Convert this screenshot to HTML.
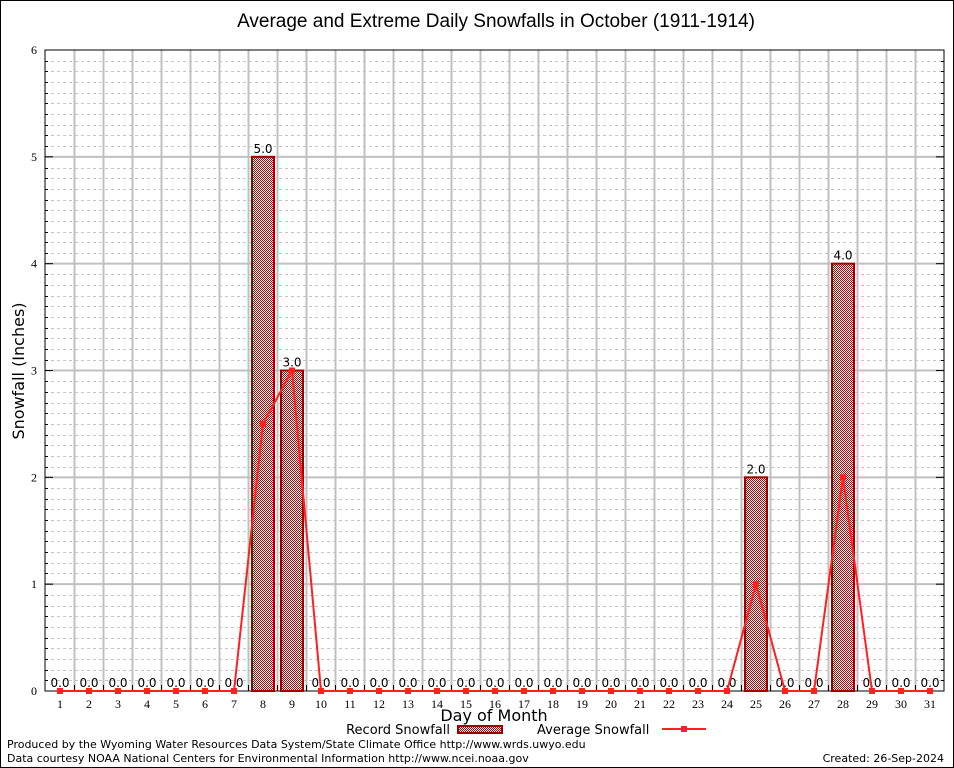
<!DOCTYPE html>
<html><head><meta charset="utf-8">
<style>
html,body{margin:0;padding:0;background:#fff;}
svg{display:block;font-family:"DejaVu Sans","Liberation Sans",sans-serif;}
</style></head>
<body>
<svg id="chart" width="954" height="768" viewBox="0 0 954 768" xmlns="http://www.w3.org/2000/svg">
<defs>
<pattern id="chk" width="2" height="2" patternUnits="userSpaceOnUse">
<rect width="2" height="2" fill="#fff"/>
<rect width="1" height="1" fill="#b00000"/>
<rect x="1" y="1" width="1" height="1" fill="#b00000"/>
</pattern>
</defs>
<rect x="0.5" y="0.5" width="953" height="767" fill="#fff" stroke="#000"/>
<text x="496" y="27" font-size="19" text-anchor="middle" font-family="Liberation Sans, sans-serif">Average and Extreme Daily Snowfalls in October (1911-1914)</text>
<g id="grid"></g>
<g id="marks"></g>
<text transform="translate(24,371) rotate(-90)" font-size="16" text-anchor="middle">Snowfall (Inches)</text>
<text x="494" y="721" font-size="16" text-anchor="middle">Day of Month</text>
<g>
<text x="450" y="734" font-size="13" text-anchor="end">Record Snowfall</text>
<rect x="458" y="726" width="44" height="7" fill="url(#chk)" stroke="#a00000" stroke-width="2"/>
<text x="537" y="734" font-size="13">Average Snowfall</text>
<line x1="662" y1="729" x2="706" y2="729" stroke="#ff2020" stroke-width="2"/>
<rect x="681" y="726" width="6" height="6" fill="#ff2020"/>
</g>
<text x="7" y="748" font-size="11">Produced by the Wyoming Water Resources Data System/State Climate Office http://www.wrds.uwyo.edu</text>
<text x="7" y="762" font-size="11">Data courtesy NOAA National Centers for Environmental Information http://www.ncei.noaa.gov</text>
<text x="944" y="762" font-size="11" text-anchor="end">Created:  26-Sep-2024</text>
</svg>
<script>
const days = [1,2,3,4,5,6,7,8,9,10,11,12,13,14,15,16,17,18,19,20,21,22,23,24,25,26,27,28,29,30,31];
const recordSnow = [0,0,0,0,0,0,0,5.0,3.0,0,0,0,0,0,0,0,0,0,0,0,0,0,0,0,2.0,0,0,4.0,0,0,0];
const avgSnow = [0,0,0,0,0,0,0,2.5,3.0,0,0,0,0,0,0,0,0,0,0,0,0,0,0,0,1.0,0,0,2.0,0,0,0];
const yTicks = [0,1,2,3,4,5,6];

const NS="http://www.w3.org/2000/svg";
const PL=45, PR=944, PT=50, PB=691, YMAX=6;
function xS(d){return 60+(d-1)*29;}
function yS(v){return PB-(v/YMAX)*(PB-PT);}
function mk(tag,attrs,parent){const e=document.createElementNS(NS,tag);for(const k in attrs)e.setAttribute(k,attrs[k]);parent.appendChild(e);return e;}
const grid=document.getElementById('grid'), marks=document.getElementById('marks');

for(let i=1;i<YMAX*10;i++){
  if(i%10===0)continue;
  const y=Math.round(yS(i/10))+0.5;
  const l=mk('line',{x1:PL,x2:PR,y1:y,y2:y,stroke:'#c4c4c4','stroke-width':1,'stroke-dasharray':'3,3'},grid);
  
  
  const t=mk('line',{x1:PL,x2:PL+3,y1:y,y2:y,stroke:'#000'},grid);
  
  
  const t2=mk('line',{x1:PR-3,x2:PR,y1:y,y2:y,stroke:'#000'},grid);
  
  
}
yTicks.forEach(t=>{
  const y=yS(t);
  if(t>0&&t<YMAX){const l=mk('line',{x1:PL,x2:PR,y1:y,y2:y,stroke:'#c0c0c0','stroke-width':2},grid);
  
  }
  const tk=mk('line',{x1:PL,x2:PL+8,y1:y,y2:y,stroke:'#000'},grid);
  
  
  const tk2=mk('line',{x1:PR-8,x2:PR,y1:y,y2:y,stroke:'#000'},grid);
  
  
  const tx=mk('text',{x:PL-8,y:y+4,'font-size':12,'text-anchor':'end','font-family':'Liberation Serif, serif'},grid);
  tx.textContent=t;
  
  
});
for(let i=1;i<days.length;i++){
  const x=xS(i)+14.5;
  const l=mk('line',{x1:x,x2:x,y1:PT,y2:PB,stroke:'#c0c0c0','stroke-width':2},grid);
  
  
  const t=mk('line',{x1:x,x2:x,y1:PB-6,y2:PB,stroke:'#000'},grid);
  
  
}
const fr=mk('rect',{x:PL,y:PT,width:PR-PL,height:PB-PT,fill:'none',stroke:'#000','stroke-width':1},grid);


days.forEach(d=>{
  const tx=mk('text',{x:xS(d),y:708,'font-size':12,'text-anchor':'middle','font-family':'Liberation Serif, serif'},grid);
  tx.textContent=d;
  
  
});
days.forEach((d,i)=>{
  const v=recordSnow[i];
  if(v>0){
    const b=mk('rect',{x:xS(d)-11,y:yS(v),width:22,height:PB-yS(v),fill:'url(#chk)',stroke:'#a00000','stroke-width':2},marks);
    
    
  }
  const lb=mk('text',{x:xS(d),y:yS(v)-4,'font-size':12,'text-anchor':'middle'},marks);
  lb.textContent=v.toFixed(1);
  
  
});
const pts=days.map((d,i)=>xS(d)+','+yS(avgSnow[i])).join(' ');
const pl=mk('polyline',{points:pts,fill:'none',stroke:'#ff2020','stroke-width':2},marks);


days.forEach((d,i)=>{
  const c=mk('rect',{x:xS(d)-3,y:yS(avgSnow[i])-3,width:6,height:6,fill:'#ff2020'},marks);
  
  
});
</script>
</body></html>
